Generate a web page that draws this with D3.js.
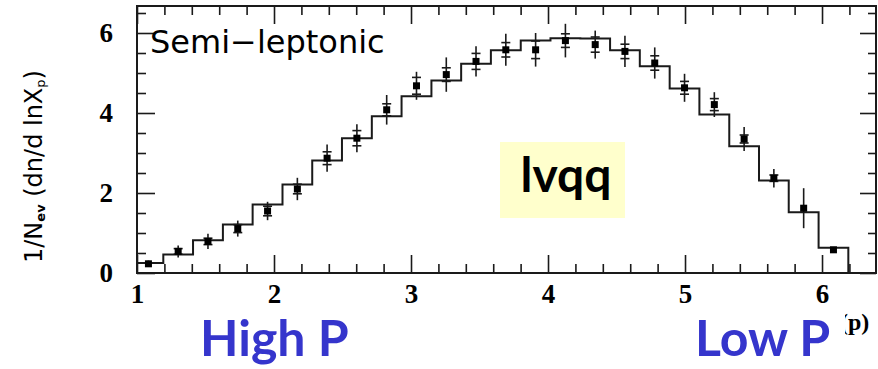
<!DOCTYPE html>
<html>
<head>
<meta charset="utf-8">
<script src="https://cdn.jsdelivr.net/npm/d3@7/dist/d3.min.js"></script>
<style>
  html, body { margin: 0; padding: 0; background: #fff; }
  svg { display: block; }
</style>
</head>
<body>
<svg id="chart" width="878" height="369"></svg>
<script>
// ---- data ----
const binEdges = [0.975, 1.192, 1.409, 1.627, 1.844, 2.062, 2.279, 2.496, 2.714, 2.931, 3.149, 3.366,
                  3.583, 3.801, 4.018, 4.236, 4.453, 4.670, 4.888, 5.105, 5.323, 5.540, 5.757, 5.975, 6.192];
const mcLevels = [0.25, 0.46, 0.82, 1.21, 1.71, 2.21, 2.81, 3.37, 3.92, 4.42, 4.81, 5.23,
                  5.57, 5.81, 5.87, 5.86, 5.57, 5.17, 4.61, 3.96, 3.17, 2.31, 1.52, 0.63];
const dataVals = [0.23, 0.54, 0.79, 1.11, 1.55, 2.10, 2.87, 3.37, 4.08, 4.68, 4.96, 5.29,
                  5.58, 5.58, 5.81, 5.71, 5.54, 5.25, 4.63, 4.21, 3.35, 2.37, 1.62, 0.58];
const barErr   = [0.08, 0.15, 0.19, 0.20, 0.23, 0.28, 0.34, 0.35, 0.37, 0.35, 0.43, 0.38,
                  0.40, 0.42, 0.42, 0.35, 0.39, 0.39, 0.35, 0.31, 0.30, 0.23, 0.50, 0.06];
const tickErr  = [0.00, 0.07, 0.08, 0.10, 0.12, 0.12, 0.16, 0.19, 0.15, 0.21, 0.17, 0.20,
                  0.18, 0.22, 0.17, 0.19, 0.18, 0.18, 0.16, 0.15, 0.10, 0.08, 0.00, 0.00];
const xMajorTicks = [1, 2, 3, 4, 5, 6];
const yMajorTicks = [0, 2, 4, 6];
const plotLabel = "Semi\u2212leptonic";
const boxLabel = "lvqq";
const leftNote = "High P";
const rightNote = "Low P";

// ---- layout ----
const L = 137, R = 876, T = 6, B = 273;
const svg = d3.select("#chart");
const x = d3.scaleLinear().domain([1, 6.394]).range([L, R]);
const y = d3.scaleLinear().domain([0, 6.675]).range([B, T]);
const ink = "#1a1a1a";

const xMinor = d3.range(12, 64, 2).map(v => v / 10).filter(v => !xMajorTicks.includes(v));
const yMinor = d3.range(1, 14, 1).map(v => v / 2).filter(v => !yMajorTicks.includes(v));

// clip
svg.append("defs").append("clipPath").attr("id", "clip")
  .append("rect").attr("x", L).attr("y", T).attr("width", R - L).attr("height", B - T);

// histogram (MC)
const stepPts = binEdges.slice(0, -1).map((e, i) => [e, mcLevels[i]]);
stepPts.push([binEdges[binEdges.length - 1], mcLevels[mcLevels.length - 1]]);
stepPts.push([binEdges[binEdges.length - 1], 0]);
const line = d3.line().x(d => x(d[0])).y(d => y(d[1])).curve(d3.curveStepAfter);
svg.append("path").attr("clip-path", "url(#clip)")
  .attr("d", line(stepPts))
  .attr("fill", "none").attr("stroke", ink).attr("stroke-width", 2);

// data points
const centers = binEdges.slice(0, -1).map((e, i) => (e + binEdges[i + 1]) / 2);
const pts = svg.append("g").attr("clip-path", "url(#clip)");
dataVals.forEach((v, i) => {
  const cx = x(centers[i]);
  pts.append("line").attr("x1", cx).attr("x2", cx)
    .attr("y1", y(v - barErr[i])).attr("y2", y(v + barErr[i]))
    .attr("stroke", ink).attr("stroke-width", 1.6);
  if (tickErr[i] > 0) {
    [v - tickErr[i], v + tickErr[i]].forEach(t => {
      pts.append("line").attr("x1", cx - 4.5).attr("x2", cx + 4.5)
        .attr("y1", y(t)).attr("y2", y(t))
        .attr("stroke", ink).attr("stroke-width", 1.6);
    });
  }
  pts.append("rect").attr("x", cx - 3.5).attr("y", y(v) - 3.5)
    .attr("width", 7).attr("height", 7).attr("fill", "#000");
});

// axes (inward ticks)
function styleAxis(g) {
  g.select(".domain").remove();
  g.selectAll(".tick line").attr("stroke", ink).attr("stroke-width", 1.6);
  g.selectAll(".tick text").attr("fill", "#000")
    .style("font-family", "'Liberation Serif', 'DejaVu Serif', serif")
    .style("font-size", "27px").style("font-weight", "bold");
}
svg.append("g").attr("transform", `translate(0,${B})`)
  .call(d3.axisBottom(x).tickValues(xMinor).tickSize(-9).tickFormat("")).call(styleAxis);
svg.append("g").attr("transform", `translate(0,${B})`)
  .call(d3.axisBottom(x).tickValues(xMajorTicks).tickSize(-18).tickPadding(11).tickFormat(d3.format("d"))).call(styleAxis);
svg.append("g").attr("transform", `translate(0,${T})`)
  .call(d3.axisTop(x).tickValues(xMinor).tickSize(-9).tickFormat("")).call(styleAxis);
svg.append("g").attr("transform", `translate(0,${T})`)
  .call(d3.axisTop(x).tickValues(xMajorTicks).tickSize(-18).tickFormat("")).call(styleAxis);
svg.append("g").attr("transform", `translate(${L},0)`)
  .call(d3.axisLeft(y).tickValues(yMinor).tickSize(-9).tickFormat("")).call(styleAxis);
svg.append("g").attr("transform", `translate(${L},0)`)
  .call(d3.axisLeft(y).tickValues(yMajorTicks).tickSize(-18).tickPadding(24).tickFormat(d3.format("d"))).call(styleAxis);
svg.append("g").attr("transform", `translate(${R},0)`)
  .call(d3.axisRight(y).tickValues(yMinor).tickSize(-8).tickFormat("")).call(styleAxis);
svg.append("g").attr("transform", `translate(${R},0)`)
  .call(d3.axisRight(y).tickValues(yMajorTicks).tickSize(-16).tickFormat("")).call(styleAxis);

// frame
svg.append("rect").attr("x", L).attr("y", T).attr("width", R - L).attr("height", B - T)
  .attr("fill", "none").attr("stroke", ink).attr("stroke-width", 2);

// y axis title
const yt = svg.append("text")
  .attr("transform", "translate(42,263) rotate(-90)")
  .attr("fill", "#000")
  .style("font-family", "'DejaVu Sans', sans-serif").style("font-size", "24px");
yt.append("tspan").text("1/N");
yt.append("tspan").attr("baseline-shift", "-25%").style("font-size", "13px").style("font-weight", "bold").text("ev");
yt.append("tspan").text(" (dn/d lnX");
yt.append("tspan").attr("baseline-shift", "-25%").style("font-size", "13px").text("p");
yt.append("tspan").text(")");

// in-plot label
svg.append("text").attr("x", 150).attr("y", 53).attr("fill", "#000")
  .style("font-family", "'DejaVu Sans', sans-serif").style("font-size", "32px")
  .text(plotLabel);

// yellow box
svg.append("rect").attr("x", 500).attr("y", 142).attr("width", 125).attr("height", 76)
  .attr("fill", "#FFFFCC");
svg.append("text").attr("x", 566).attr("y", 192).attr("text-anchor", "middle").attr("fill", "#000")
  .style("font-family", "Lato, 'DejaVu Sans', sans-serif").style("font-size", "48px").style("font-weight", "bold")
  .text(boxLabel);

// x-axis label remnant
svg.append("text").attr("x", 840).attr("y", 330).attr("fill", "#000")
  .style("font-family", "'Liberation Serif', serif").style("font-size", "24px").style("font-weight", "bold")
  .text("(p)");
svg.append("rect").attr("x", 836).attr("y", 308).attr("width", 9).attr("height", 34).attr("fill", "#fff");

// blue notes
const noteStyle = sel => sel.attr("fill", "#3535CC")
  .style("font-family", "Lato, 'DejaVu Sans', sans-serif").style("font-size", "50px").style("font-weight", "bold");
svg.append("text").attr("x", 200).attr("y", 356).text(leftNote).call(noteStyle);
svg.append("text").attr("x", 695).attr("y", 356).text(rightNote).call(noteStyle);
</script>
</body>
</html>
